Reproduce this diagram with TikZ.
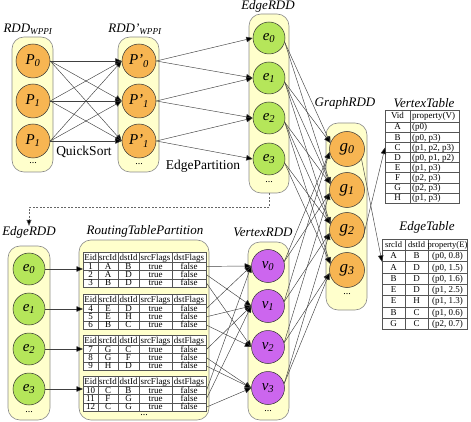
\documentclass[tikz,border=0pt]{standalone}
\usepackage{fontspec}
\setmainfont{Liberation Serif}
\usetikzlibrary{arrows.meta}
\definecolor{contfill}{HTML}{FFFFCC}
\definecolor{contdraw}{HTML}{8A8A8A}
\definecolor{orangec}{HTML}{F7B552}
\definecolor{greenc}{HTML}{B5E65A}
\definecolor{purplec}{HTML}{CC66EE}
\definecolor{tline}{HTML}{555555}
\newcommand{\circlab}[2]{\textit{#1\textsubscript{#2}}}
\begin{document}
\begin{tikzpicture}[x=1pt,y=-1pt,
  cont/.style={draw=contdraw,fill=contfill,rounded corners=12pt,line width=0.6pt,inner sep=0},
  rc/.style={circle,draw=black!80,line width=0.5pt,inner sep=0,minimum size=#1,font=\fontsize{15}{15}\selectfont},
  rc/.default=34pt,
  ttl/.style={inner sep=0,font=\fontsize{13}{13}\selectfont\itshape},
  dots/.style={inner sep=0,font=\fontsize{10}{10}\selectfont},
  ar/.style={line width=0.45pt,draw=black!75,-{Triangle[length=6.5pt,width=5.5pt,fill=black]}},
  tb/.style={draw=tline,fill=white,line width=0.5pt,inner sep=0,anchor=north west},
  tt/.style={inner sep=0,anchor=base,font=\fontsize{9}{9}\selectfont},
  ttw/.style={inner sep=0,anchor=base west,font=\fontsize{9}{9}\selectfont}]
\useasboundingbox (0,0) rectangle (471,422);

% ---------- containers ----------
\node[cont,minimum width=41pt,minimum height=135pt] (cA) at (32.5,104.5) {};
\node[cont,minimum width=41pt,minimum height=135pt] (cB) at (138.5,104.5) {};
\node[cont,minimum width=40pt,minimum height=179pt] (cC) at (269,103.5) {};
\node[cont,minimum width=41pt,minimum height=187pt] (cD) at (346.5,216.5) {};
\node[cont,minimum width=42pt,minimum height=174pt] (cE) at (29,333) {};
\node[cont,minimum width=130pt,minimum height=180pt] (cF) at (144,330) {};
\node[cont,minimum width=41pt,minimum height=178pt] (cG) at (268.5,331) {};

% ---------- titles ----------
\node[ttl] (tA) at (28,29) {RDD\textsubscript{WPPI}};
\node[ttl] (tB) at (135,29) {RDD’\textsubscript{WPPI}};
\node[ttl] (tC) at (268,6) {EdgeRDD};
\node[ttl] (tD) at (345,103) {GraphRDD};
\node[ttl] (tVT) at (424,103) {VertexTable};
\node[ttl] (tET) at (427,227) {EdgeTable};
\node[ttl] (tE) at (29,232) {EdgeRDD};
\node[ttl] (tF) at (145,231) {RoutingTablePartition};
\node[ttl] (tG) at (263,232) {VertexRDD};
\node[inner sep=0,font=\fontsize{13.5}{13.5}\selectfont] (qs) at (84,152) {QuickSort};
\node[inner sep=0,font=\fontsize{13.5}{13.5}\selectfont] (ep) at (203,166) {EdgePartition};

% ---------- circles ----------
\foreach \i/\y/\s in {0/61/0,1/101/1,2/141/1}{
  \node[rc,fill=orangec] (p\i) at (33,\y) {\circlab{P}{\s}};
  \node[rc,fill=orangec] (q\i) at (139,\y) {\circlab{P’}{\s}};
}
\node[dots] (dA) at (33,163) {...};
\node[dots] (dB) at (139,164) {...};
\foreach \i/\y in {0/38,1/78,2/118,3/159}
  \node[rc=32pt,fill=greenc] (e\i) at (269,\y) {\circlab{e}{\i}};
\node[dots] (dC) at (269,182) {...};
\foreach \i/\y in {0/149,1/190,2/230,3/270}
  \node[rc=35pt,fill=orangec,font=\fontsize{17}{17}\selectfont] (g\i) at (347,\y) {\circlab{g}{\i}};
\node[dots] (dD) at (347,294) {...};
\foreach \i/\y in {0/269,1/309,2/349,3/389}
  \node[rc=32pt,fill=greenc] (b\i) at (29,\y) {\circlab{e}{\i}};
\node[dots] (dE) at (29,412) {...};
\foreach \i/\y in {0/266,1/306,2/347,3/388}
  \node[rc=33pt,fill=purplec] (v\i) at (268,\y) {\circlab{v}{\i}};
\node[dots] (dG) at (268,411) {...};
\node[dots] (dF) at (144,415) {...};

% ---------- routing tables ----------
\foreach \t/\ty in {1/252,2/294,3/335,4/376}{
  \node[tb,minimum width=123pt,minimum height=35pt] (rt\t) at (83,\ty) {};
  \foreach \x in {98,118,139,172} \draw[draw=tline,line width=0.5pt] (\x,\ty) -- (\x,\ty+35);
  \node[tt] (h\t a) at (90.5,\ty+8) {Eid};
  \node[tt] (h\t b) at (108,\ty+8) {srcId};
  \node[tt] (h\t c) at (128.5,\ty+8) {dstId};
  \node[tt] (h\t d) at (155.5,\ty+8) {srcFlags};
  \node[tt] (h\t e) at (189,\ty+8) {dstFlags};
}
\foreach \ry/\e/\s/\d in {262/1/A/B,270.33/2/A/D,278.67/3/B/D,
  304/4/E/D,312.33/5/E/H,320.67/6/B/C,
  345/7/G/C,353.33/8/G/F,361.67/9/H/D,
  386/10/C/B,394.33/11/F/G,402.67/12/C/G}{
  \node[tb,fill=none,minimum width=123pt,minimum height=8.33pt] (row\e) at (83,\ry) {};
  \node[tt] (ce\e) at (90.5,\ry+7.3) {\e};
  \node[tt] (cs\e) at (108,\ry+7.3) {\s};
  \node[tt] (cd\e) at (128.5,\ry+7.3) {\d};
  \node[tt] (cf\e) at (155.5,\ry+7.3) {true};
  \node[tt] (cg\e) at (189,\ry+7.3) {false};
}

% ---------- VertexTable ----------
\node[tb,minimum width=74pt,minimum height=92.8pt] (vt) at (385,110) {};
\draw[draw=tline,line width=0.5pt] (410,110) -- (410,202.8);
\node[tt] (vth1) at (397.5,119) {Vid};
\node[ttw] (vth2) at (412,119) {property(V)};
\foreach \v/\p [count=\i] in {A/(p0),B/{(p0, p3)},C/{(p1, p2, p3)},D/{(p0, p1, p2)},E/{(p1, p3)},F/{(p2, p3)},G/{(p2, p3)},H/{(p1, p3)}}{
  \node[tb,fill=none,minimum width=74pt,minimum height=10.1pt] (vtr\i) at (385,{122+(\i-1)*10.1}) {};
  \node[tt] (vtv\i) at (397.5,{122+(\i-1)*10.1+8}) {\v};
  \node[ttw] (vtp\i) at (412,{122+(\i-1)*10.1+8}) {\p};
}

% ---------- EdgeTable ----------
\node[tb,minimum width=85pt,minimum height=90.1pt] (et) at (382,239) {};
\draw[draw=tline,line width=0.5pt] (405,239) -- (405,329.1) (428,239) -- (428,329.1);
\node[tt,font=\fontsize{8.5}{8.5}\selectfont] (eth1) at (393.5,247.5) {srcId};
\node[tt,font=\fontsize{8.5}{8.5}\selectfont] (eth2) at (416.5,247.5) {dstId};
\node[tt,font=\fontsize{8.5}{8.5}\selectfont] (eth3) at (447.5,247.5) {property(E)};
\foreach \s/\d/\p [count=\i] in {A/B/{(p0, 0.8)},A/D/{(p0, 1.5)},B/D/{(p0, 1.6)},E/D/{(p1, 2.5)},E/H/{(p1, 1.3)},B/C/{(p1, 0.6)},G/C/{(p2, 0.7)}}{
  \node[tb,fill=none,minimum width=85pt,minimum height=11.3pt] (etr\i) at (382,{250+(\i-1)*11.3}) {};
  \node[tt] (ets\i) at (393.5,{250+(\i-1)*11.3+8.7}) {\s};
  \node[tt] (etd\i) at (416.5,{250+(\i-1)*11.3+8.7}) {\d};
  \node[tt] (etp\i) at (447.5,{250+(\i-1)*11.3+8.7}) {\p};
}

% ---------- connectors ----------
\foreach \i in {0,1,2} \foreach \j in {0,1,2} \draw[ar] (p\i.east) -- (q\j.west);
\foreach \i/\j in {0/0,0/1,1/1,1/2,2/2,2/3} \draw[ar] (q\i.east) -- (e\j.west);
\foreach \i/\j in {0/0,0/1,1/0,1/1,1/2,2/1,2/2,2/3,3/2,3/3} \draw[ar] (e\i.-15) -- (g\j.160);
\foreach \i/\j in {0/0,0/1,1/0,1/2,2/1,2/3,3/2,3/3} \draw[ar] (v\i.15) -- (g\j.190);
\foreach \i/\t in {0/1,1/2,2/3,3/4} \draw[ar] (b\i.east) -- (b\i.east -| rt\t.west);
\foreach \r/\v in {1/0,2/1,3/2,4/0,5/1,6/2,7/1,8/3,9/3,10/0,11/1,12/3} \draw[ar] (row\r.east) -- (v\v.west);
\draw[ar] (g2.-25) -- (vtr3.west);
\draw[ar] (g0.-35) -- (etr1.south west);
\draw[line width=0.5pt,draw=black!60,dash pattern=on 2pt off 1.5pt,-{Triangle[length=6pt,width=5pt,fill=black]}]
  (cC.south) -- ++(0,14) -| (tE.north);
\end{tikzpicture}
\end{document}
